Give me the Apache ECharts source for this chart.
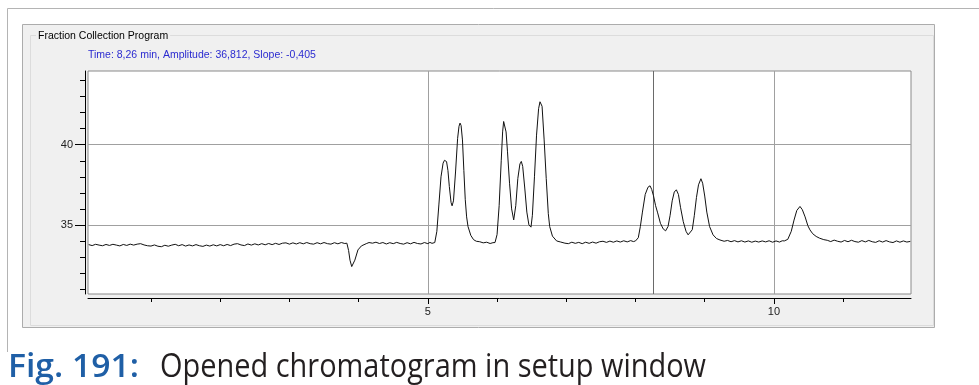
<!DOCTYPE html>
<html>
<head>
<meta charset="utf-8">
<script src="https://cdn.jsdelivr.net/npm/echarts@6/dist/echarts.min.js"></script>
<style>
  html, body { margin: 0; padding: 0; background: #ffffff; }
  #chart { width: 979px; height: 385px; }
</style>
</head>
<body>
<div id="chart"></div>
<script>
// Detector trace: [time in min, amplitude]
const trace = [
  [0.10,33.77],[0.15,33.71],[0.20,33.79],[0.25,33.74],[0.30,33.70],[0.35,33.78],[0.40,33.72],[0.45,33.79],
  [0.50,33.74],[0.55,33.69],[0.60,33.78],[0.65,33.72],[0.70,33.80],[0.75,33.74],[0.80,33.80],[0.85,33.83],
  [0.90,33.75],[0.95,33.70],[1.00,33.68],[1.05,33.75],[1.10,33.67],[1.15,33.64],[1.20,33.73],[1.25,33.67],
  [1.30,33.74],[1.35,33.79],[1.40,33.70],[1.45,33.77],[1.50,33.68],[1.55,33.75],[1.60,33.69],[1.65,33.77],
  [1.70,33.70],[1.75,33.66],[1.80,33.74],[1.85,33.68],[1.90,33.76],[1.95,33.69],[2.00,33.77],[2.05,33.70],
  [2.10,33.78],[2.15,33.71],[2.20,33.80],[2.25,33.83],[2.30,33.75],[2.35,33.71],[2.40,33.81],[2.45,33.74],
  [2.50,33.82],[2.55,33.75],[2.60,33.83],[2.65,33.76],[2.70,33.84],[2.75,33.77],[2.80,33.85],[2.85,33.78],
  [2.90,33.86],[2.95,33.88],[3.00,33.80],[3.05,33.88],[3.10,33.81],[3.15,33.89],[3.20,33.82],[3.25,33.90],
  [3.30,33.83],[3.35,33.80],[3.40,33.89],[3.45,33.82],[3.50,33.90],[3.55,33.83],[3.60,33.80],[3.65,33.89],
  [3.70,33.82],[3.75,33.90],[3.80,33.84],[3.83,33.86],
  // negative system peak
  [3.855,33.40],[3.875,32.80],[3.90,32.40],[3.915,32.31],[3.945,32.80],[3.99,33.44],[4.04,33.69],[4.11,33.83],
  [4.15,33.90],[4.20,33.86],[4.25,33.92],[4.30,33.84],[4.35,33.90],[4.40,33.81],[4.45,33.89],[4.50,33.83],
  [4.55,33.91],[4.60,33.84],[4.65,33.80],[4.70,33.89],[4.75,33.82],[4.80,33.91],[4.85,33.84],[4.90,33.81],
  [4.95,33.90],[5.00,33.83],[5.03,33.91],[5.06,33.85],
  // peaks 1-2
  [5.10,33.90],[5.13,34.60],[5.16,36.30],[5.19,38.00],[5.22,38.85],[5.24,39.03],[5.256,39.06],[5.27,38.95],
  [5.29,38.40],[5.31,37.40],[5.335,36.40],[5.35,36.19],[5.37,36.50],[5.40,38.30],[5.43,40.40],[5.45,41.15],
  [5.465,41.35],[5.48,41.20],[5.50,40.30],[5.52,38.40],[5.54,36.60],[5.56,35.50],[5.58,34.90],[5.62,34.35],
  [5.66,34.08],[5.70,33.98],[5.75,33.95],[5.80,33.88],[5.85,33.92],[5.90,33.84],[5.94,33.89],
  // peaks 3-5
  [5.97,33.90],[6.00,34.40],[6.03,36.20],[6.06,39.00],[6.08,40.80],[6.095,41.45],[6.11,41.50],[6.13,40.80],
  [6.15,39.60],[6.18,37.60],[6.21,36.00],[6.24,35.31],[6.27,36.20],[6.30,37.90],[6.33,38.80],[6.35,38.96],
  [6.37,38.65],[6.40,37.30],[6.43,35.80],[6.46,35.00],[6.49,34.86],[6.51,35.60],[6.54,38.00],[6.57,40.60],
  [6.60,42.25],[6.62,42.68],[6.635,42.71],[6.65,42.40],[6.68,40.30],[6.71,37.90],[6.74,35.70],[6.76,34.90],
  [6.80,34.30],[6.86,34.00],[6.92,33.93],[6.98,33.86],
  [7.03,33.83],[7.08,33.92],[7.13,33.85],[7.18,33.91],[7.23,33.83],[7.28,33.92],[7.33,33.85],[7.38,33.93],
  [7.43,33.86],[7.48,33.95],[7.53,33.98],[7.58,33.91],[7.63,33.99],[7.68,33.92],[7.73,34.00],[7.78,33.93],
  [7.83,34.01],[7.88,33.94],[7.93,34.02],[7.97,33.96],
  // peaks 6-8
  [8.00,34.00],[8.04,34.20],[8.07,34.90],[8.10,35.80],[8.14,36.90],[8.18,37.35],[8.21,37.44],[8.235,37.20],
  [8.26,36.812],[8.29,36.20],[8.32,35.75],[8.36,35.10],[8.40,34.75],[8.435,34.63],[8.47,34.90],[8.50,35.60],
  [8.53,36.50],[8.56,37.05],[8.59,37.19],[8.62,36.90],[8.65,36.10],[8.69,35.20],[8.73,34.60],[8.76,34.38],
  [8.786,34.31],[8.82,34.70],[8.85,35.60],[8.88,36.70],[8.91,37.50],[8.945,37.88],[8.97,37.60],[9.00,36.80],
  [9.03,35.80],[9.07,34.90],[9.12,34.38],[9.17,34.15],[9.22,34.06],[9.28,33.98],
  [9.33,34.03],[9.38,33.95],[9.43,34.02],[9.48,33.94],[9.53,34.01],[9.58,33.93],[9.63,34.00],[9.68,33.92],
  [9.73,33.99],[9.78,33.93],[9.83,34.00],[9.88,33.94],[9.93,34.01],[9.98,33.92],[10.03,34.00],[10.08,33.93],
  [10.12,34.01],
  // peak 9
  [10.15,34.00],[10.20,34.10],[10.25,34.60],[10.29,35.30],[10.33,35.90],[10.376,36.15],[10.41,35.95],[10.45,35.50],
  [10.49,34.95],[10.52,34.69],[10.56,34.45],[10.61,34.28],[10.66,34.17],[10.72,34.08],
  [10.77,34.04],[10.82,33.96],[10.87,34.05],[10.92,33.98],[10.97,33.93],[11.02,34.03],[11.07,33.95],[11.12,34.04],
  [11.17,33.96],[11.22,33.92],[11.27,34.02],[11.32,33.94],[11.37,34.03],[11.42,33.95],[11.47,33.91],[11.52,34.01],
  [11.57,33.93],[11.62,34.02],[11.67,33.94],[11.72,33.90],[11.77,34.00],[11.82,33.92],[11.87,34.00],[11.92,33.93],
  [11.97,33.97]
];

// Axis ranges, ticks and labels
const timeRange = [0.09, 11.98];
const ampRange = [30.69, 44.6];
const timeMinorTicks = [1, 2, 3, 4, 6, 7, 8, 9, 11];
const timeMajorTicks = [5, 10];
const ampMinorTicks = [31, 32, 33, 34, 36, 37, 38, 39, 41, 42, 43, 44];
const ampMajorTicks = [35, 40];

// Reference lines and cursor read-out
const timeGridLines = [5, 10];
const ampGridLines = [35, 40];
const cursorReadout = { time: '8,26', amplitude: '36,812', slope: '-0,405' };
const cursorTime = 8.26;

const groupTitle = 'Fraction Collection Program';
const captionLabel = 'Fig. 191:';
const captionText = 'Opened chromatogram in setup window';

const uiFont = '"Liberation Sans", Arial, sans-serif';

function textWidth(text, font) {
  const ctx = document.createElement('canvas').getContext('2d');
  ctx.font = font;
  return ctx.measureText(text).width;
}
const capSize = 33;
const labelFont = '600 ' + capSize + 'px "Open Sans"';
const textFont = capSize + 'px "Open Sans"';
const labelScale = 131 / textWidth(captionLabel, labelFont);
const textScale = 546 / textWidth(captionText, textFont);

const chart = echarts.init(document.getElementById('chart'), null, { renderer: 'canvas' });

function axisBase(extra) {
  return Object.assign({
    type: 'value',
    scale: true,
    splitLine: { show: false },
    z: 4
  }, extra);
}

const statusLine = 'Time: ' + cursorReadout.time + ' min, Amplitude: ' + cursorReadout.amplitude +
  ', Slope: ' + cursorReadout.slope;

chart.setOption({
  animation: false,
  backgroundColor: '#ffffff',
  grid: {
    left: 88, top: 71, width: 823, height: 223,
    show: true, backgroundColor: '#ffffff', borderColor: '#8a8a8a', borderWidth: 1,
    z: 1
  },
  xAxis: [
    axisBase({
      min: timeRange[0], max: timeRange[1], position: 'bottom', offset: 4,
      axisLine: { show: true, onZero: false, lineStyle: { color: '#000', width: 1 } },
      axisTick: { show: true, customValues: timeMinorTicks, length: 4, lineStyle: { color: '#000' } },
      axisLabel: { show: false }
    }),
    axisBase({
      min: timeRange[0], max: timeRange[1], position: 'bottom', offset: 4,
      axisLine: { show: false },
      axisTick: { show: true, customValues: timeMajorTicks, length: 6, lineStyle: { color: '#000' } },
      axisLabel: {
        show: true, customValues: timeMajorTicks, margin: 8,
        color: '#222', fontFamily: uiFont, fontSize: 11
      }
    })
  ],
  yAxis: [
    axisBase({
      min: ampRange[0], max: ampRange[1], position: 'left', offset: 3,
      axisLine: { show: true, onZero: false, lineStyle: { color: '#000', width: 1 } },
      axisTick: { show: true, customValues: ampMinorTicks, length: 5, lineStyle: { color: '#000' } },
      axisLabel: { show: false }
    }),
    axisBase({
      min: ampRange[0], max: ampRange[1], position: 'left', offset: 3,
      axisLine: { show: false },
      axisTick: { show: true, customValues: ampMajorTicks, length: 10, lineStyle: { color: '#000' } },
      axisLabel: {
        show: true, customValues: ampMajorTicks, margin: 12,
        color: '#222', fontFamily: uiFont, fontSize: 11
      }
    })
  ],
  graphic: [
    // outer window frame
    { type: 'line', z: 0, silent: true, shape: { x1: 7.5, y1: 8.5, x2: 979, y2: 8.5 }, style: { stroke: '#b4b4b4', lineWidth: 1 } },
    { type: 'line', z: 0, silent: true, shape: { x1: 7.5, y1: 8.5, x2: 7.5, y2: 352 }, style: { stroke: '#b4b4b4', lineWidth: 1 } },
    // dialog panel
    { type: 'rect', z: 0, silent: true, shape: { x: 22.5, y: 24.5, width: 912, height: 303 },
      style: { fill: '#f0f0f0', stroke: '#acacac', lineWidth: 1 } },
    // group box
    { type: 'rect', z: 0, silent: true, shape: { x: 30.5, y: 35.5, width: 903, height: 290 },
      style: { fill: null, stroke: '#dcdcdc', lineWidth: 1 } },
    { type: 'text', z: 6, silent: true, x: 36, y: 36,
      style: { text: groupTitle, fill: '#000', font: '10.5px ' + uiFont, verticalAlign: 'middle',
        backgroundColor: '#f0f0f0', padding: [1, 2] } },
    { type: 'text', z: 6, silent: true, x: 88, y: 55,
      style: { text: statusLine, fill: '#2b2bd0', font: '10.5px ' + uiFont, verticalAlign: 'middle' } },
    // caption
    { type: 'text', z: 6, silent: true, x: 8, y: 368, scaleX: labelScale,
      style: { text: captionLabel, fill: '#1f5fa6', font: labelFont, verticalAlign: 'middle' } },
    { type: 'text', z: 6, silent: true, x: 160, y: 368, scaleX: textScale,
      style: { text: captionText, fill: '#231f20', font: textFont, verticalAlign: 'middle' } }
  ],
  series: [{
    type: 'line',
    xAxisIndex: 0,
    yAxisIndex: 0,
    data: trace,
    showSymbol: false,
    symbol: 'none',
    z: 5,
    lineStyle: { color: '#111111', width: 1 },
    markLine: {
      silent: true,
      symbol: ['none', 'none'],
      label: { show: false },
      animation: false,
      lineStyle: { color: '#a0a0a0', width: 1, type: 'solid' },
      data: [
        ...timeGridLines.map(v => ({ xAxis: v })),
        ...ampGridLines.map(v => ({ yAxis: v })),
        { xAxis: cursorTime, lineStyle: { color: '#6a6a6a', width: 1, type: 'solid' } }
      ]
    }
  }]
});
</script>
</body>
</html>
